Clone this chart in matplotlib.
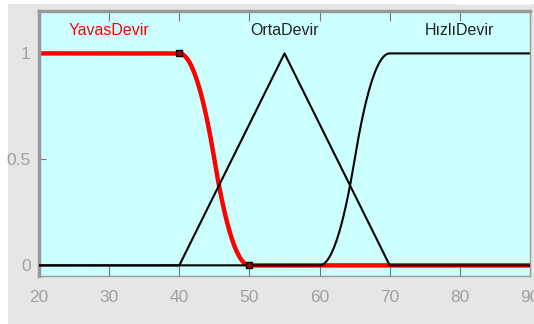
import matplotlib
matplotlib.use("Agg")
import matplotlib.pyplot as plt
import numpy as np
from matplotlib.patches import Rectangle

plt.rcParams['font.family'] = ['Liberation Sans Narrow', 'Liberation Sans', 'DejaVu Sans']

# membership functions of the input "devir"
x_range = [20, 90]
mf_names = ['YavasDevir', 'OrtaDevir', 'HızlıDevir']
yavas_params = [40, 50]        # zmf
orta_params = [40, 55, 70]     # trimf
hizli_params = [60, 70]        # smf
label_x = [30, 55, 80]
x_ticks = [20, 30, 40, 50, 60, 70, 80, 90]
y_ticks = [0, 0.5, 1]


def zmf(x, a, b):
    y = np.ones_like(x)
    m = (a + b) / 2
    i1 = (x > a) & (x <= m)
    i2 = (x > m) & (x < b)
    y[i1] = 1 - 2 * ((x[i1] - a) / (b - a)) ** 2
    y[i2] = 2 * ((x[i2] - b) / (b - a)) ** 2
    y[x >= b] = 0
    return y


def smf(x, a, b):
    return 1 - zmf(x, a, b)


def trimf(x, a, b, c):
    return np.maximum(np.minimum((x - a) / (b - a), (c - x) / (c - b)), 0)


x = np.linspace(x_range[0], x_range[1], 1401)

fig = plt.figure(figsize=(5.34, 3.24), dpi=100)
fig.patch.set_facecolor('white')
# gray panel behind the axes
fig.patches.append(Rectangle((8 / 534, 0), 1, 1 - 4 / 324, transform=fig.transFigure,
                             facecolor='#e6e6e6', edgecolor='none', zorder=-2))
fig.patches.append(Rectangle((457 / 534, 1 - 5 / 324), 73 / 534, 5 / 324, transform=fig.transFigure,
                             facecolor='white', edgecolor='none', zorder=-1))

ax = fig.add_axes([39 / 534, 1 - 276 / 324, 491 / 534, 265 / 324])
ax.set_facecolor('#ccffff')

ax.plot(x, zmf(x, *yavas_params), color='red', lw=3.2, zorder=2)
ax.plot(x, trimf(x, *orta_params), color='black', lw=1.5, zorder=3)
ax.plot(x, smf(x, *hizli_params), color='black', lw=1.5, zorder=3)
ax.plot(yavas_params, [1, 0], ls='none', marker='s', ms=4.5,
        mfc='#aa0000', mec='black', mew=1, zorder=4)

label_colors = ['red', '#222222', '#222222']
for name, lx, c in zip(mf_names, label_x, label_colors):
    ax.text(lx, 1.11, name, color=c, ha='center', va='center', fontsize=11.5)

ax.set_xlim(x_range)
ax.set_ylim(-0.05, 1.2)
ax.set_xticks(x_ticks)
ax.set_yticks(y_ticks)
ax.set_yticklabels(['0', '0.5', '1'])
ax.tick_params(axis='x', direction='in', top=True, length=7, color='#777777',
               labelcolor='#a0a0a0', labelsize=12.5, pad=10)
ax.tick_params(axis='y', direction='in', length=5, color='#777777',
               labelcolor='#a0a0a0', labelsize=12.5, pad=6)
for side, sp in ax.spines.items():
    sp.set_color('#999999')
    sp.set_linewidth(1.0)
ax.spines['top'].set_linewidth(2.5)
ax.spines['left'].set_linewidth(2.5)

fig.savefig('out.png', dpi=100)
